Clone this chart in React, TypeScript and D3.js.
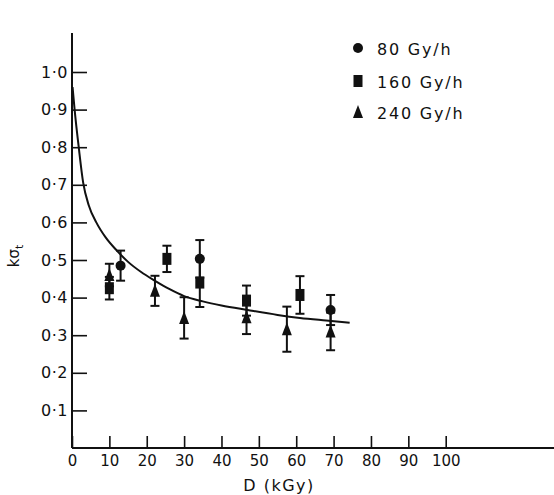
import React, { useEffect, useRef } from 'react';
import * as d3 from 'd3';

// Точки с погрешностями (D в кГр, значение, полуширина погрешности)
const circleD = [13, 34.2, 69.2];
const circleV = [0.485, 0.503, 0.367];
const circleErr = [0.04, 0.05, 0.04];

const squareD = [10, 25.4, 34.2, 46.7, 61];
const squareV = [0.425, 0.503, 0.44, 0.392, 0.407];
const squareErr = [0.03, 0.035, 0.065, 0.04, 0.05];

const triangleD = [10, 22.2, 30, 46.7, 57.5, 69.2];
const triangleV = [0.46, 0.418, 0.346, 0.348, 0.316, 0.31];
const triangleErr = [0.03, 0.04, 0.055, 0.045, 0.06, 0.05];

// Сглаженная кривая
const curveD = [0.15, 0.7, 1.8, 3, 4.5, 6.5, 9, 12, 15, 18.5, 22, 26, 30, 35, 40, 47, 55, 61, 68, 74.3];
const curveV = [0.96, 0.9, 0.8, 0.705, 0.645, 0.6, 0.56, 0.525, 0.495, 0.468, 0.446, 0.423, 0.404, 0.39, 0.379, 0.367, 0.354, 0.346, 0.339, 0.333];

const xTicks = [0, 10, 20, 30, 40, 50, 60, 70, 80, 90, 100];
const yTicks = [0.1, 0.2, 0.3, 0.4, 0.5, 0.6, 0.7, 0.8, 0.9, 1.0];

const legendLabels = ['80 Gy/h', '160 Gy/h', '240 Gy/h'];

const App: React.FC = () => {
  const ref = useRef<SVGSVGElement>(null);

  useEffect(() => {
    if (!ref.current) return;
    const svg = d3.select(ref.current);
    svg.selectAll('*').remove();

    const font = "'DejaVu Sans', sans-serif";
    const x = d3.scaleLinear().domain([0, 100]).range([72, 445.7]);
    const y = d3.scaleLinear().domain([0, 1]).range([448, 72]);

    // Оси
    svg.append('line')
      .attr('x1', x(0)).attr('x2', 554)
      .attr('y1', y(0)).attr('y2', y(0))
      .attr('stroke', '#111').attr('stroke-width', 2);
    svg.append('line')
      .attr('x1', x(0)).attr('x2', x(0))
      .attr('y1', y(0)).attr('y2', 33)
      .attr('stroke', '#111').attr('stroke-width', 2);

    const xAxis = d3.axisBottom(x)
      .tickValues(xTicks)
      .tickSizeInner(-12)
      .tickSizeOuter(0)
      .tickPadding(7)
      .tickFormat(d3.format('d'));
    const gx = svg.append('g')
      .attr('transform', `translate(0, ${y(0)})`)
      .call(xAxis);
    gx.select('.domain').remove();
    gx.selectAll('line').attr('stroke', '#111').attr('stroke-width', 1.6);
    gx.selectAll('text')
      .attr('fill', '#111')
      .style('font-family', font)
      .style('font-size', '15px');

    const yAxis = d3.axisLeft(y)
      .tickValues(yTicks)
      .tickSizeInner(-15)
      .tickSizeOuter(0)
      .tickPadding(4)
      .tickFormat(d => d3.format('.1f')(d as number).replace('.', '·'));
    const gy = svg.append('g')
      .attr('transform', `translate(${x(0)}, 0)`)
      .call(yAxis);
    gy.select('.domain').remove();
    gy.selectAll('line').attr('stroke', '#111').attr('stroke-width', 1.6);
    gy.selectAll('text')
      .attr('fill', '#111')
      .style('font-family', font)
      .style('font-size', '16px')
      .style('letter-spacing', '0.5px');

    // Подписи осей
    svg.append('text')
      .attr('x', 279).attr('y', 491)
      .attr('text-anchor', 'middle')
      .attr('fill', '#111')
      .style('font-family', font)
      .style('font-size', '16px')
      .style('letter-spacing', '1.5px')
      .text('D (kGy)');

    const yl = svg.append('text')
      .attr('transform', 'translate(19, 256) rotate(-90)')
      .attr('text-anchor', 'middle')
      .attr('fill', '#111')
      .style('font-family', font)
      .style('font-size', '15px');
    yl.append('tspan').text('kσ');
    yl.append('tspan').attr('dy', 4).style('font-size', '11px').text('t');

    // Кривая
    const line = d3.line<number>()
      .x((_, i) => x(curveD[i]))
      .y(d => y(d))
      .curve(d3.curveMonotoneX);
    svg.append('path')
      .datum(curveV)
      .attr('d', line)
      .attr('fill', 'none')
      .attr('stroke', '#111')
      .attr('stroke-width', 2);

    // Погрешности
    const drawErr = (ds: number[], vs: number[], es: number[]) => {
      const g = svg.append('g').attr('stroke', '#111').attr('stroke-width', 2);
      ds.forEach((d, i) => {
        const cx = x(d);
        const top = y(vs[i] + es[i]);
        const bot = y(vs[i] - es[i]);
        g.append('line').attr('x1', cx).attr('x2', cx).attr('y1', top).attr('y2', bot);
        g.append('line').attr('x1', cx - 4.5).attr('x2', cx + 4.5).attr('y1', top).attr('y2', top);
        g.append('line').attr('x1', cx - 4.5).attr('x2', cx + 4.5).attr('y1', bot).attr('y2', bot);
      });
    };
    drawErr(circleD, circleV, circleErr);
    drawErr(squareD, squareV, squareErr);
    drawErr(triangleD, triangleV, triangleErr);

    // Маркеры
    const sq = (g: any, cx: number, cy: number) =>
      g.append('rect').attr('x', cx - 4.5).attr('y', cy - 6).attr('width', 9).attr('height', 12).attr('fill', '#111');
    const tri = (g: any, cx: number, cy: number) =>
      g.append('path').attr('d', `M${cx},${cy - 7}L${cx + 5},${cy + 6}L${cx - 5},${cy + 6}Z`).attr('fill', '#111');
    const circ = (g: any, cx: number, cy: number) =>
      g.append('circle').attr('cx', cx).attr('cy', cy).attr('r', 5).attr('fill', '#111');

    const marks = svg.append('g');
    squareD.forEach((d, i) => sq(marks, x(d), y(squareV[i])));
    triangleD.forEach((d, i) => tri(marks, x(d), y(triangleV[i])));
    circleD.forEach((d, i) => circ(marks, x(d), y(circleV[i])));

    // Легенда
    const legendY = [48, 81, 112];
    const lg = svg.append('g');
    circ(lg, 358, legendY[0]);
    sq(lg, 358, legendY[1]);
    tri(lg, 358, legendY[2]);
    legendLabels.forEach((t, i) => {
      lg.append('text')
        .attr('x', 377).attr('y', legendY[i] + 7)
        .attr('fill', '#111')
        .style('font-family', font)
        .style('font-size', '16px')
        .style('letter-spacing', '1.8px')
        .text(t);
    });
  }, []);

  return (
    <svg
      ref={ref}
      width={554}
      height={495}
      viewBox="0 0 554 495"
      style={{ position: 'absolute', left: 0, top: 0, background: '#fff' }}
    />
  );
};

export default App;
